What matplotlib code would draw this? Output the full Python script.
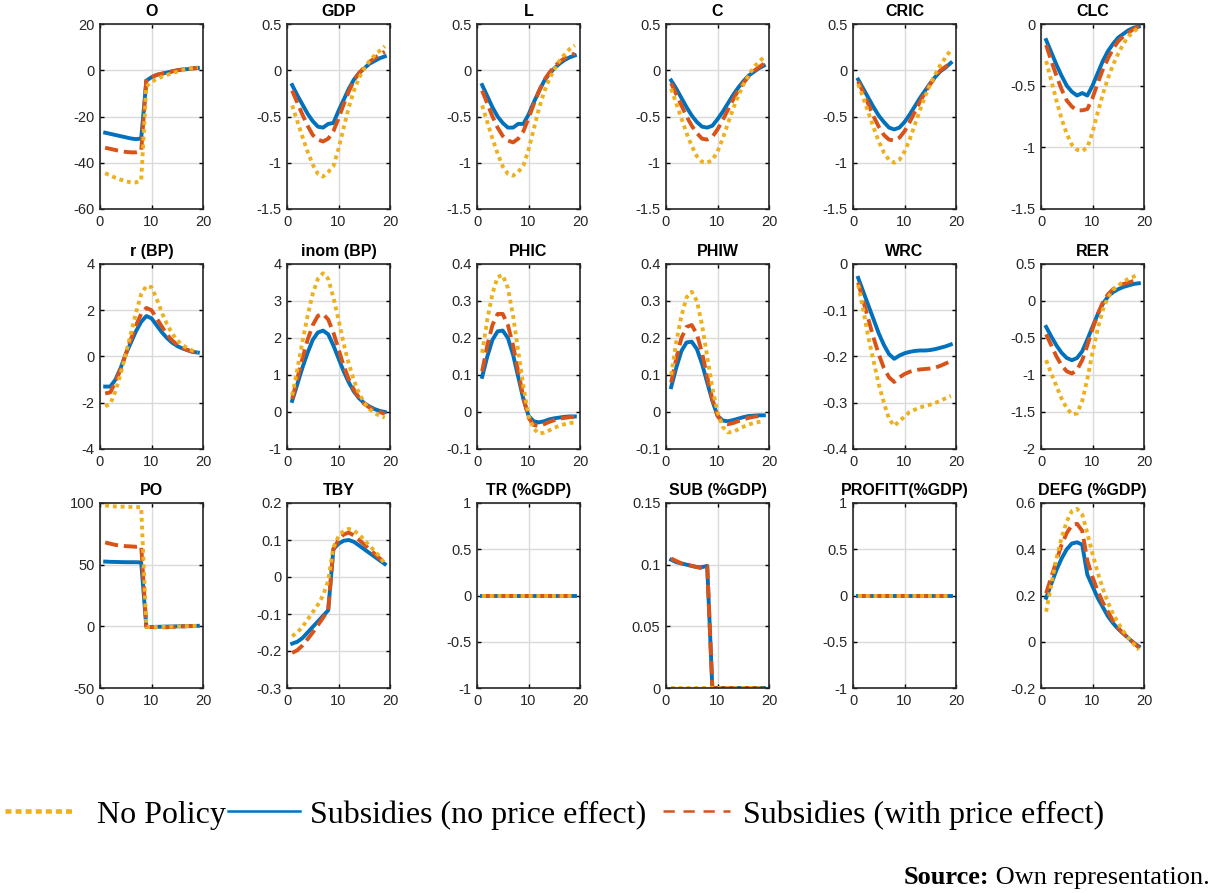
import matplotlib
matplotlib.use("Agg")
import matplotlib.pyplot as plt
from matplotlib.lines import Line2D
from matplotlib.ticker import FuncFormatter

# horizon (quarters)
t = list(range(1, 20))

# series per panel: _np = No Policy, _s = Subsidies (no price effect), _sp = Subsidies (with price effect)
o_np = [-44.5, -45.5, -46.5, -47.3, -48, -48.5, -48.5, -47.5, -7, -5, -3.8, -2.8, -2, -1.3, -0.6, 0, 0.5, 1, 1.3]
o_s = [-27, -27.5, -28, -28.5, -29, -29.5, -29.8, -29.5, -4.5, -3, -2, -1.5, -1, -0.5, 0, 0.3, 0.5, 0.8, 1]
o_sp = [-33.5, -34, -34.5, -35, -35.3, -35.5, -35.5, -35, -4, -3, -2, -1.5, -1, -0.5, 0, 0.3, 0.5, 0.8, 1]

gdp_np = [-0.38, -0.55, -0.72, -0.88, -1.02, -1.12, -1.15, -1.1, -1.04, -0.85, -0.62, -0.4, -0.22, -0.08, 0.02, 0.1, 0.16, 0.21, 0.26]
gdp_s = [-0.16, -0.27, -0.37, -0.47, -0.55, -0.61, -0.62, -0.58, -0.57, -0.44, -0.32, -0.2, -0.1, -0.03, 0.02, 0.07, 0.1, 0.13, 0.15]
gdp_sp = [-0.22, -0.35, -0.48, -0.6, -0.7, -0.75, -0.77, -0.74, -0.66, -0.52, -0.37, -0.23, -0.11, -0.03, 0.03, 0.09, 0.13, 0.17, 0.2]

l_np = [-0.38, -0.56, -0.74, -0.9, -1.04, -1.12, -1.14, -1.1, -1.03, -0.86, -0.64, -0.42, -0.24, -0.1, 0.01, 0.1, 0.17, 0.23, 0.27]
l_s = [-0.16, -0.28, -0.4, -0.5, -0.57, -0.62, -0.62, -0.58, -0.58, -0.48, -0.35, -0.23, -0.12, -0.04, 0.02, 0.07, 0.11, 0.14, 0.16]
l_sp = [-0.22, -0.36, -0.5, -0.62, -0.71, -0.76, -0.78, -0.74, -0.66, -0.52, -0.37, -0.23, -0.11, -0.03, 0.04, 0.09, 0.13, 0.16, 0.18]

c_np = [-0.2, -0.36, -0.52, -0.68, -0.82, -0.93, -0.99, -1.0, -0.97, -0.88, -0.74, -0.58, -0.42, -0.28, -0.16, -0.06, 0.03, 0.09, 0.14]
c_s = [-0.11, -0.2, -0.3, -0.4, -0.49, -0.56, -0.61, -0.62, -0.6, -0.53, -0.45, -0.36, -0.27, -0.19, -0.12, -0.06, -0.02, 0.02, 0.05]
c_sp = [-0.14, -0.26, -0.38, -0.5, -0.6, -0.68, -0.74, -0.75, -0.72, -0.64, -0.54, -0.43, -0.32, -0.22, -0.14, -0.07, -0.01, 0.03, 0.07]

cric_np = [-0.15, -0.3, -0.46, -0.62, -0.77, -0.89, -0.97, -1.0, -0.97, -0.88, -0.75, -0.59, -0.43, -0.28, -0.15, -0.04, 0.06, 0.14, 0.22]
cric_s = [-0.1, -0.2, -0.3, -0.4, -0.49, -0.56, -0.62, -0.64, -0.62, -0.56, -0.48, -0.39, -0.3, -0.22, -0.14, -0.07, -0.01, 0.03, 0.08]
cric_sp = [-0.12, -0.24, -0.37, -0.5, -0.61, -0.7, -0.75, -0.76, -0.73, -0.66, -0.56, -0.45, -0.34, -0.24, -0.15, -0.07, 0.0, 0.04, 0.08]

clc_np = [-0.3, -0.46, -0.62, -0.77, -0.89, -0.98, -1.02, -1.03, -1.0, -0.88, -0.72, -0.57, -0.44, -0.33, -0.24, -0.16, -0.1, -0.06, -0.03]
clc_s = [-0.13, -0.23, -0.33, -0.42, -0.5, -0.55, -0.58, -0.56, -0.58, -0.5, -0.4, -0.3, -0.22, -0.16, -0.11, -0.08, -0.05, -0.03, -0.02]
clc_sp = [-0.17, -0.3, -0.42, -0.53, -0.62, -0.67, -0.7, -0.7, -0.69, -0.6, -0.48, -0.37, -0.28, -0.2, -0.14, -0.1, -0.07, -0.04, -0.02]

r_np = [-2.15, -2.05, -1.5, -0.75, 0.1, 1.0, 1.9, 2.7, 3.05, 3.0, 2.5, 1.9, 1.4, 1.0, 0.7, 0.5, 0.35, 0.25, 0.18]
r_s = [-1.3, -1.3, -1.0, -0.5, 0.1, 0.6, 1.1, 1.5, 1.75, 1.65, 1.35, 1.05, 0.8, 0.6, 0.45, 0.35, 0.27, 0.2, 0.17]
r_sp = [-1.6, -1.55, -1.1, -0.55, 0.1, 0.75, 1.35, 1.85, 2.1, 2.0, 1.65, 1.3, 0.95, 0.7, 0.5, 0.37, 0.28, 0.2, 0.17]

inom_np = [0.45, 1.15, 1.9, 2.6, 3.2, 3.6, 3.75, 3.6, 3.1, 2.5, 1.85, 1.3, 0.85, 0.5, 0.25, 0.08, -0.03, -0.1, -0.15]
inom_s = [0.3, 0.75, 1.2, 1.6, 1.95, 2.15, 2.2, 2.1, 1.8, 1.45, 1.1, 0.8, 0.55, 0.37, 0.24, 0.15, 0.08, 0.03, 0.0]
inom_sp = [0.35, 0.9, 1.45, 1.95, 2.35, 2.6, 2.65, 2.5, 2.15, 1.7, 1.25, 0.88, 0.6, 0.38, 0.22, 0.12, 0.05, 0.0, -0.05]

phic_np = [0.16, 0.25, 0.32, 0.365, 0.37, 0.335, 0.26, 0.165, 0.07, -0.01, -0.045, -0.058, -0.056, -0.05, -0.043, -0.037, -0.033, -0.03, -0.028]
phic_s = [0.095, 0.15, 0.195, 0.218, 0.22, 0.2, 0.155, 0.095, 0.035, -0.01, -0.025, -0.028, -0.025, -0.02, -0.017, -0.015, -0.013, -0.012, -0.012]
phic_sp = [0.11, 0.18, 0.235, 0.265, 0.265, 0.235, 0.18, 0.11, 0.04, -0.015, -0.035, -0.038, -0.033, -0.027, -0.022, -0.018, -0.016, -0.014, -0.013]

phiw_np = [0.1, 0.19, 0.26, 0.31, 0.325, 0.3, 0.235, 0.15, 0.065, 0.0, -0.04, -0.055, -0.054, -0.047, -0.04, -0.034, -0.03, -0.027, -0.025]
phiw_s = [0.067, 0.12, 0.165, 0.188, 0.19, 0.17, 0.13, 0.08, 0.03, -0.01, -0.023, -0.025, -0.022, -0.018, -0.014, -0.011, -0.01, -0.009, -0.009]
phiw_sp = [0.08, 0.145, 0.2, 0.23, 0.235, 0.21, 0.16, 0.095, 0.035, -0.01, -0.03, -0.033, -0.03, -0.025, -0.02, -0.016, -0.013, -0.011, -0.01]

wrc_np = [-0.045, -0.1, -0.16, -0.21, -0.26, -0.3, -0.335, -0.35, -0.34, -0.33, -0.32, -0.315, -0.31, -0.307, -0.304, -0.3, -0.296, -0.29, -0.285]
wrc_s = [-0.03, -0.06, -0.09, -0.12, -0.15, -0.175, -0.195, -0.205, -0.198, -0.193, -0.19, -0.188, -0.187, -0.187, -0.186, -0.184, -0.181, -0.178, -0.174]
wrc_sp = [-0.04, -0.08, -0.12, -0.16, -0.195, -0.225, -0.245, -0.255, -0.245, -0.238, -0.233, -0.23, -0.228, -0.227, -0.226, -0.224, -0.22, -0.215, -0.21]

rer_np = [-0.8, -0.98, -1.15, -1.32, -1.45, -1.53, -1.52, -1.35, -1.05, -0.7, -0.38, -0.12, 0.05, 0.15, 0.21, 0.26, 0.3, 0.33, 0.36]
rer_s = [-0.35, -0.48, -0.6, -0.7, -0.77, -0.8, -0.77, -0.68, -0.52, -0.35, -0.18, -0.04, 0.06, 0.12, 0.16, 0.19, 0.21, 0.23, 0.24]
rer_sp = [-0.45, -0.6, -0.75, -0.87, -0.95, -0.98, -0.93, -0.8, -0.6, -0.38, -0.18, -0.02, 0.09, 0.16, 0.2, 0.23, 0.25, 0.27, 0.28]

po_np = [98, 97.5, 97.2, 97, 97, 96.8, 96.8, 96.5, -0.5, -0.5, -0.5, -0.4, -0.3, -0.2, -0.1, 0, 0.2, 0.3, 0.4]
po_s = [52.5, 52.3, 52.2, 52.1, 52, 52, 52, 51.8, -0.5, -0.5, -0.4, -0.3, -0.2, -0.1, 0, 0.1, 0.2, 0.3, 0.4]
po_sp = [68, 67, 66, 65.5, 65, 64.8, 64.5, 65, -0.5, -0.6, -0.8, -0.8, -0.7, -0.5, -0.3, -0.1, 0.1, 0.2, 0.3]

tby_np = [-0.16, -0.15, -0.135, -0.115, -0.095, -0.075, -0.05, -0.01, 0.08, 0.11, 0.125, 0.13, 0.125, 0.115, 0.1, 0.085, 0.07, 0.055, 0.035]
tby_s = [-0.18, -0.175, -0.165, -0.15, -0.135, -0.12, -0.105, -0.09, 0.075, 0.09, 0.098, 0.1, 0.095, 0.085, 0.075, 0.065, 0.055, 0.045, 0.035]
tby_sp = [-0.205, -0.198, -0.185, -0.168, -0.15, -0.13, -0.11, -0.09, 0.075, 0.1, 0.115, 0.12, 0.112, 0.1, 0.088, 0.075, 0.063, 0.05, 0.04]

tr_np = [0, 0, 0, 0, 0, 0, 0, 0, 0, 0, 0, 0, 0, 0, 0, 0, 0, 0, 0]
tr_s = [0, 0, 0, 0, 0, 0, 0, 0, 0, 0, 0, 0, 0, 0, 0, 0, 0, 0, 0]
tr_sp = [0, 0, 0, 0, 0, 0, 0, 0, 0, 0, 0, 0, 0, 0, 0, 0, 0, 0, 0]

sub_np = [0, 0, 0, 0, 0, 0, 0, 0, 0, 0, 0, 0, 0, 0, 0, 0, 0, 0, 0]
sub_s = [0.104, 0.102, 0.101, 0.1, 0.099, 0.098, 0.098, 0.099, 0, 0, 0, 0, 0, 0, 0, 0, 0, 0, 0]
sub_sp = [0.105, 0.103, 0.101, 0.1, 0.099, 0.098, 0.097, 0.099, 0, 0, 0, 0, 0, 0, 0, 0, 0, 0, 0]

profitt_np = [0, 0, 0, 0, 0, 0, 0, 0, 0, 0, 0, 0, 0, 0, 0, 0, 0, 0, 0]
profitt_s = [0, 0, 0, 0, 0, 0, 0, 0, 0, 0, 0, 0, 0, 0, 0, 0, 0, 0, 0]
profitt_sp = [0, 0, 0, 0, 0, 0, 0, 0, 0, 0, 0, 0, 0, 0, 0, 0, 0, 0, 0]

defg_np = [0.13, 0.25, 0.36, 0.45, 0.52, 0.565, 0.575, 0.55, 0.47, 0.38, 0.3, 0.23, 0.17, 0.12, 0.08, 0.045, 0.015, -0.01, -0.035]
defg_s = [0.19, 0.25, 0.31, 0.36, 0.4, 0.425, 0.43, 0.42, 0.29, 0.24, 0.19, 0.15, 0.11, 0.08, 0.055, 0.035, 0.015, -0.005, -0.02]
defg_sp = [0.21, 0.28, 0.35, 0.42, 0.47, 0.505, 0.51, 0.48, 0.35, 0.28, 0.22, 0.17, 0.13, 0.09, 0.06, 0.035, 0.015, -0.005, -0.025]

titles = ["O", "GDP", "L", "C", "CRIC", "CLC",
          "r (BP)", "inom (BP)", "PHIC", "PHIW", "WRC", "RER",
          "PO", "TBY", "TR (%GDP)", "SUB (%GDP)", "PROFITT(%GDP)", "DEFG (%GDP)"]
yticks = [[-60, -40, -20, 0, 20], [-1.5, -1, -0.5, 0, 0.5], [-1.5, -1, -0.5, 0, 0.5],
          [-1.5, -1, -0.5, 0, 0.5], [-1.5, -1, -0.5, 0, 0.5], [-1.5, -1, -0.5, 0],
          [-4, -2, 0, 2, 4], [-1, 0, 1, 2, 3, 4], [-0.1, 0, 0.1, 0.2, 0.3, 0.4],
          [-0.1, 0, 0.1, 0.2, 0.3, 0.4], [-0.4, -0.3, -0.2, -0.1, 0], [-2, -1.5, -1, -0.5, 0, 0.5],
          [-50, 0, 50, 100], [-0.3, -0.2, -0.1, 0, 0.1, 0.2], [-1, -0.5, 0, 0.5, 1],
          [0, 0.05, 0.1, 0.15], [-1, -0.5, 0, 0.5, 1], [-0.2, 0, 0.2, 0.4, 0.6]]
series = [(o_np, o_s, o_sp), (gdp_np, gdp_s, gdp_sp), (l_np, l_s, l_sp),
          (c_np, c_s, c_sp), (cric_np, cric_s, cric_sp), (clc_np, clc_s, clc_sp),
          (r_np, r_s, r_sp), (inom_np, inom_s, inom_sp), (phic_np, phic_s, phic_sp),
          (phiw_np, phiw_s, phiw_sp), (wrc_np, wrc_s, wrc_sp), (rer_np, rer_s, rer_sp),
          (po_np, po_s, po_sp), (tby_np, tby_s, tby_sp), (tr_np, tr_s, tr_sp),
          (sub_np, sub_s, sub_sp), (profitt_np, profitt_s, profitt_sp), (defg_np, defg_s, defg_sp)]
labels = ["No Policy", "Subsidies (no price effect)", "Subsidies (with price effect)"]

BLUE = "#0072BD"
ORANGE = "#D95319"
YELLOW = "#EDB120"
LW = 2.8
dotted = (0, (1, 1))
dashed = (0, (3.4, 1.5))

W, H = 1213, 893
fig = plt.figure(figsize=(W / 100, H / 100), dpi=100)
plt.rcParams['font.family'] = ['Liberation Sans', 'DejaVu Sans']

col_left = [100, 287, 477, 666, 853, 1041]
row_top = [24, 264, 503]
ax_w, ax_h = 103, 185

fmt = FuncFormatter(lambda v, p: "%g" % round(v, 6))

for i in range(18):
    r, c = divmod(i, 6)
    l, top = col_left[c], row_top[r]
    ax = fig.add_axes([l / W, 1 - (top + ax_h) / H, ax_w / W, ax_h / H])
    y_np, y_s, y_sp = series[i]
    ax.plot(t, y_s, color=BLUE, lw=LW, solid_joinstyle='round')
    ax.plot(t, y_sp, color=ORANGE, lw=LW, linestyle=dashed, dash_capstyle='butt')
    ax.plot(t, y_np, color=YELLOW, lw=LW, linestyle=dotted, dash_capstyle='butt')
    ax.set_xlim(0, 20)
    ax.set_xticks([0, 10, 20])
    yt = yticks[i]
    ax.set_ylim(yt[0], yt[-1])
    ax.set_yticks(yt)
    ax.yaxis.set_major_formatter(fmt)
    ax.grid(True, color="#dadada", lw=1.0)
    ax.set_axisbelow(True)
    ax.tick_params(direction='in', length=3, width=1, top=True, right=True,
                   labelsize=10.5, labelcolor="#262626", pad=4)
    for s in ax.spines.values():
        s.set_linewidth(1.2)
        s.set_color("#262626")
    ax.set_title(titles[i], fontsize=11.5, fontweight='bold', pad=6)

# legend keys and labels (drawn in pixel positions to mimic the original layout)
def fx(px):
    return px / W


def fy(py):
    return 1 - py / H


key_y = fy(811)
fig.add_artist(Line2D([fx(5), fx(72)], [key_y, key_y], color=YELLOW, lw=3.3,
                      linestyle=(0, (1.3, 0.9)), dash_capstyle='butt'))
fig.add_artist(Line2D([fx(228), fx(300)], [key_y, key_y], color=BLUE, lw=1.8))
fig.add_artist(Line2D([fx(663), fx(730)], [key_y, key_y], color=ORANGE, lw=1.8,
                      linestyle=(0, (4.5, 3.5)), dash_capstyle='butt'))
for x0, lab in zip([97, 310, 743], labels):
    fig.text(fx(x0), fy(823), lab, ha='left', va='baseline',
             family='Liberation Serif', fontsize=23)

# source note
t2 = fig.text(fx(1210), fy(884), " Own representation.", ha='right', va='baseline',
              family='Liberation Serif', fontsize=19)
fig.canvas.draw()
bb = t2.get_window_extent()
fig.text(bb.x0 / W, fy(884), "Source:", ha='right', va='baseline',
         family='Liberation Serif', fontsize=19, fontweight='bold')

fig.savefig("out.png", dpi=100)
